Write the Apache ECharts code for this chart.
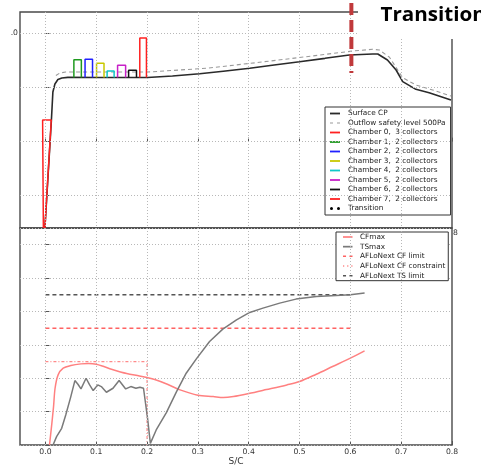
<!DOCTYPE html>
<html><head><meta charset="utf-8">
<script src="https://cdn.jsdelivr.net/npm/echarts@6/dist/echarts.min.js"></script>
<style>html,body{margin:0;padding:0;background:#fff}#c{width:481px;height:472px}</style>
</head><body><div id="c"></div>
<script>
// ---------- data ----------
const xTicks = [0, 0.1, 0.2, 0.3, 0.4, 0.5, 0.6, 0.7, 0.8];
const xGridValues = [0, 0.1, 0.2, 0.3, 0.4, 0.5, 0.6, 0.7];
const cpGridValues = [-1.0, -0.5, 0.0, 0.5];

const surfaceCp = [[-0.001,0.8],[0.0118,-0.2],[0.0147,-0.459],[0.0187,-0.533],[0.0246,-0.575],[0.0324,-0.589],
  [0.0442,-0.595],[0.107,-0.594],[0.201,-0.594],[0.25,-0.607],[0.3035,-0.628],[0.35,-0.652],[0.402,-0.679],
  [0.45,-0.71],[0.5,-0.74],[0.55,-0.771],[0.598,-0.802],[0.644,-0.811],[0.654,-0.811],[0.673,-0.756],
  [0.69,-0.663],[0.703,-0.555],[0.729,-0.484],[0.755,-0.453],[0.798,-0.385]];
const outflowLevel = [[0.0206,-0.612],[0.0285,-0.635],[0.04,-0.644],[0.201,-0.644],[0.317,-0.679],[0.415,-0.731],
  [0.513,-0.786],[0.605,-0.839],[0.644,-0.855],[0.657,-0.848],[0.677,-0.781],[0.703,-0.592],[0.729,-0.524],
  [0.762,-0.478],[0.798,-0.422]];

const chamberNames = ['Chamber 0,  3 collectors','Chamber 1,  2 collectors','Chamber 2,  2 collectors',
  'Chamber 3,  2 collectors','Chamber 4,  2 collectors','Chamber 5,  2 collectors','Chamber 6,  2 collectors',
  'Chamber 7,  2 collectors'];
const chamber0Outline = [[-0.004,0.8],[-0.0055,-0.2],[0.0115,-0.2],[-0.001,0.8]];
const chamberX0 = [0.056, 0.078, 0.1006, 0.1214, 0.142, 0.1637, 0.1857];
const chamberX1 = [0.0707, 0.0927, 0.1153, 0.1352, 0.1578, 0.1792, 0.1988];
const chamberTop = [-0.758, -0.763, -0.725, -0.654, -0.707, -0.661, -0.959];
const chamberBase = -0.594;

const transitionX = 0.602;
const transitionSpan = [-1.283, -0.635];

const cfMax = [[0.008,0],[0.012,0.55],[0.016,1.15],[0.019,1.7],[0.025,2.1],[0.035,2.3],[0.05,2.38],[0.07,2.43],
  [0.085,2.44],[0.1,2.42],[0.115,2.35],[0.13,2.27],[0.16,2.14],[0.185,2.07],[0.2,2.02],[0.215,1.96],[0.24,1.82],
  [0.265,1.65],[0.3,1.49],[0.33,1.45],[0.35,1.42],[0.37,1.45],[0.4,1.54],[0.435,1.66],[0.475,1.8],[0.5,1.9],
  [0.533,2.12],[0.565,2.35],[0.6,2.6],[0.628,2.82]];
const tsMax = [[0.015,0],[0.022,0.25],[0.032,0.5],[0.04,0.9],[0.05,1.45],[0.058,1.93],[0.064,1.82],[0.07,1.68],
  [0.08,2.0],[0.087,1.8],[0.094,1.63],[0.103,1.8],[0.11,1.75],[0.12,1.58],[0.133,1.7],[0.145,1.93],[0.158,1.68],
  [0.168,1.75],[0.178,1.7],[0.186,1.73],[0.193,1.7],[0.196,1.66],[0.201,0.8],[0.2065,0.05],[0.218,0.45],
  [0.238,0.97],[0.258,1.6],[0.277,2.15],[0.297,2.58],[0.323,3.1],[0.349,3.47],[0.376,3.75],[0.402,3.97],
  [0.428,4.1],[0.461,4.25],[0.493,4.37],[0.533,4.45],[0.572,4.48],[0.6,4.5],[0.628,4.55]];
const cfLimitValue = 3.5;
const tsLimitValue = 4.5;
const limitSpan = [0, 0.6];
const cfConstraint = [[0,2.5],[0.2,2.5],[0.2,0]];

// ---------- styles ----------
const chamberColors = ['#ff2020','#1f9a1f','#2020ff','#c8c800','#10c8c8','#c820c8','#111111','#ff2020'];
const FONT = 'DejaVu Sans';
const gridLine = {type:[1,2], color:'#b8b8b8', width:1};
const ICON_SOLID = 'path://M0,0H10V1.8H0Z';
const ICON_DASH = 'path://M0,0H3.2V1.6H0ZM6.8,0H10V1.6H6.8Z';
const ICON_THIN_DASH = 'path://M0,0H3V1H0ZM7,0H10V1H7Z';
const ICON_DOTS = 'path://M0,0H1.3V1.4H0ZM4.35,0H5.65V1.4H4.35ZM8.7,0H10V1.4H8.7Z';
const ICON_TRANS = 'path://M0,1.5a1.5,1.5 0 1,0 3,0a1.5,1.5 0 1,0 -3,0ZM7,1.5a1.5,1.5 0 1,0 3,0a1.5,1.5 0 1,0 -3,0Z';

const chamberSeries = chamberNames.map((name, i) => {
  let pts;
  if (i === 0) pts = chamber0Outline;
  else {
    const k = i - 1;
    pts = [[chamberX0[k], chamberBase],[chamberX0[k], chamberTop[k]],[chamberX1[k], chamberTop[k]],[chamberX1[k], chamberBase]];
  }
  return {name, type:'line', xAxisIndex:0, yAxisIndex:0, data:pts, symbol:'none', z:4,
    color: chamberColors[i], itemStyle:{color:chamberColors[i]}, lineStyle:{color:chamberColors[i], width:1.5}};
});

const option = {
  animation:false,
  grid:[
    {left:20, top:12, width:432, height:216, show:true, borderColor:'#4a4a4a', borderWidth:1.4, backgroundColor:'#fff'},
    {left:20, top:228, width:432, height:217, show:true, borderColor:'#4a4a4a', borderWidth:1.4}
  ],
  xAxis:[
    {gridIndex:0, type:'value', min:-0.05, max:0.8, axisLine:{show:false}, axisLabel:{show:false},
     splitLine:{show:false}, axisTick:{show:true, inside:true, length:4, customValues:xTicks, lineStyle:{color:'#555'}}},
    {gridIndex:1, type:'value', min:-0.05, max:0.8, axisLine:{show:false}, splitLine:{show:false},
     axisTick:{show:true, inside:true, length:4, customValues:xTicks, lineStyle:{color:'#555'}},
     axisLabel:{show:true, customValues:xTicks, formatter:v=>v.toFixed(1), margin:3, fontSize:7.7, fontFamily:FONT, color:'#333'},
     name:'S/C', nameLocation:'middle', nameGap:11, nameTextStyle:{fontSize:9, fontFamily:FONT, color:'#333'}}
  ],
  yAxis:[
    {gridIndex:0, type:'value', min:-1.2, max:0.8, inverse:true, axisLine:{show:false}, axisLabel:{show:false},
     splitLine:{show:false}, axisTick:{show:true, inside:true, length:4, customValues:cpGridValues, lineStyle:{color:'#555'}}},
    {gridIndex:1, type:'value', min:0, max:6.5, interval:1, axisLine:{show:false}, axisLabel:{show:false},
     splitLine:{show:true, lineStyle:gridLine}, axisTick:{show:true, inside:true, length:4, lineStyle:{color:'#555'}}}
  ],
  legend:[
    {left:325, top:107, orient:'vertical', itemWidth:10, itemHeight:8, itemGap:2.5, padding:[3,5,3,5],
     backgroundColor:'#fff', borderColor:'#333', borderWidth:1, borderRadius:0, selectedMode:false,
     textStyle:{fontFamily:FONT, fontSize:7.3, color:'#222', padding:[0,0,0,3], width:95, overflow:'none'},
     data:[{name:'Surface CP', icon:ICON_SOLID},{name:'Outflow safety level 500Pa', icon:ICON_THIN_DASH}]
       .concat(chamberNames.map(n=>({name:n, icon:ICON_SOLID})))
       .concat([{name:'Transition', icon:ICON_TRANS}])},
    {left:336, top:232, orient:'vertical', itemWidth:9.5, itemHeight:8, itemGap:2.67, padding:[1.5,3,1.5,7],
     backgroundColor:'#fff', borderColor:'#333', borderWidth:1, borderRadius:0, selectedMode:false,
     textStyle:{fontFamily:FONT, fontSize:7.3, color:'#222', padding:[0,0,0,2.5], width:86, overflow:'none'},
     data:[{name:'CFmax', icon:ICON_SOLID},{name:'TSmax', icon:ICON_SOLID},{name:'AFLoNext CF limit', icon:ICON_DASH},
       {name:'AFLoNext CF constraint', icon:ICON_DOTS},{name:'AFLoNext TS limit', icon:ICON_DASH}]}
  ],
  graphic:[
    {type:'rect', shape:{x:358, y:0, width:123, height:39}, style:{fill:'#fff'}, z:10, silent:true},
    {type:'text', x:380.5, y:15, z:11, silent:true, scaleX:1.03,
     style:{text:'Transition', font:'700 20px "Open Sans"', fill:'#000', verticalAlign:'middle', align:'left'}},
    {type:'text', x:18, y:33, z:11, silent:true,
     style:{text:'.0', font:'7.7px "DejaVu Sans"', fill:'#333', verticalAlign:'middle', align:'right'}},
    {type:'text', x:453, y:233, z:11, silent:true,
     style:{text:'8', font:'7.7px "DejaVu Sans"', fill:'#333', verticalAlign:'middle', align:'left'}}
  ],
  series:[
    {type:'line', xAxisIndex:0, yAxisIndex:0, data:[], symbol:'none', z:1,
     markLine:{silent:true, symbol:'none', label:{show:false}, lineStyle:gridLine, animation:false,
       data: xGridValues.map(v=>({xAxis:v})).concat(cpGridValues.map(v=>({yAxis:v})))}},
    {type:'line', xAxisIndex:1, yAxisIndex:1, data:[], symbol:'none', z:1,
     markLine:{silent:true, symbol:'none', label:{show:false}, lineStyle:gridLine, animation:false,
       data: xGridValues.map(v=>({xAxis:v}))}},
    {name:'Outflow safety level 500Pa', type:'line', xAxisIndex:0, yAxisIndex:0, data:outflowLevel, symbol:'none', z:2,
     color:'#9a9a9a', itemStyle:{color:'#9a9a9a'}, lineStyle:{color:'#9a9a9a', width:1.1, type:[4,3]}},
    {name:'Surface CP', type:'line', xAxisIndex:0, yAxisIndex:0, data:surfaceCp, symbol:'none', z:3,
     color:'#2a2a2a', itemStyle:{color:'#2a2a2a'}, lineStyle:{color:'#2a2a2a', width:1.6}},
    ...chamberSeries,
    {name:'Transition', type:'line', xAxisIndex:0, yAxisIndex:0, data:[], symbol:'none', color:'#000',
     itemStyle:{color:'#000'}, lineStyle:{color:'#000', width:2, type:[2,5]}},
    {type:'line', xAxisIndex:0, yAxisIndex:0, clip:false, z:6, symbol:'none',
     data:[[transitionX, transitionSpan[0]],[transitionX, transitionSpan[1]]],
     lineStyle:{color:'#c0393b', width:4, type:[12,5]}},
    {name:'AFLoNext CF constraint', type:'line', xAxisIndex:1, yAxisIndex:1, data:cfConstraint, symbol:'none', z:2,
     color:'#ff8a8a', itemStyle:{color:'#ff8a8a'}, lineStyle:{color:'#ff8a8a', width:1.2, type:[3,2,1,2]}},
    {name:'AFLoNext CF limit', type:'line', xAxisIndex:1, yAxisIndex:1, symbol:'none', z:2,
     data:[[limitSpan[0], cfLimitValue],[limitSpan[1], cfLimitValue]],
     color:'#ff6262', itemStyle:{color:'#ff6262'}, lineStyle:{color:'#ff6262', width:1.5, type:[4,3]}},
    {name:'AFLoNext TS limit', type:'line', xAxisIndex:1, yAxisIndex:1, symbol:'none', z:2,
     data:[[limitSpan[0], tsLimitValue],[limitSpan[1], tsLimitValue]],
     color:'#555555', itemStyle:{color:'#555555'}, lineStyle:{color:'#555555', width:1.5, type:[4,3]}},
    {name:'CFmax', type:'line', xAxisIndex:1, yAxisIndex:1, data:cfMax, symbol:'none', z:3, smooth:0.3,
     color:'#ff8080', itemStyle:{color:'#ff8080'}, lineStyle:{color:'#ff8080', width:1.5}},
    {name:'TSmax', type:'line', xAxisIndex:1, yAxisIndex:1, data:tsMax, symbol:'none', z:3,
     color:'#7a7a7a', itemStyle:{color:'#7a7a7a'}, lineStyle:{color:'#7a7a7a', width:1.5}}
  ]
};
const chart = echarts.init(document.getElementById('c'), null, {renderer:'canvas'});
chart.setOption(option);
</script></body></html>
